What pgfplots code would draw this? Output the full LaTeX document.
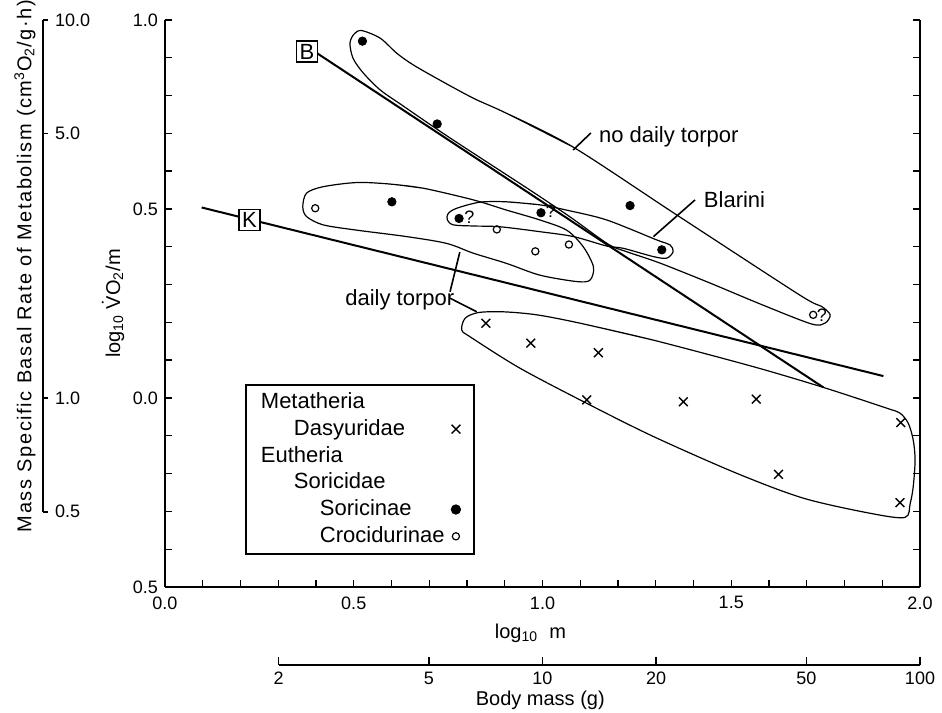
\documentclass[border=0pt]{standalone}
\usepackage{fontspec}
\setmainfont{Liberation Sans}
\newfontfamily\spaced[LetterSpace=8]{Liberation Sans}
\usepackage{pgfplots}
\pgfplotsset{compat=1.18}
\newcommand\lgt[2]{\makebox[89.8pt][l]{\hspace{#1}#2}}
\pgfplotsset{myimg/.style={legend image code/.code={\path[draw=none,fill=none] (0cm,0cm) (0.33cm,0cm); \draw[##1] plot coordinates {(0.2cm,0cm)};}}}
\begin{document}
\begin{tikzpicture}[x=1pt,y=1pt]
\useasboundingbox (-82.5,-62.5) rectangle (388.5,293.5);
% ---------------- main axis ----------------
\begin{axis}[
  at={(0pt,0pt)}, anchor=south west,
  scale only axis, width=377.5pt, height=283.5pt,
  xmin=0, xmax=2, ymin=-0.5, ymax=1,
  axis x line*=bottom, axis y line*=box,
  axis line style={line width=0.9pt},
  tick style={black, line width=0.7pt},
  tick align=inside,
  major tick length=3.5pt, minor tick length=3.5pt,
  xtick={0,0.5,1,1.5,2}, xticklabels={0.0,0.5,1.0,1.5,2.0},
  minor x tick num=4,
  ytick={-0.5,0,0.5,1}, yticklabels={0.5,0.0,0.5,1.0},
  minor y tick num=4,
  yticklabel pos=left,
  tick label style={font=\fontsize{9}{10}\selectfont},
  xticklabel style={yshift=-1.2pt},
  xlabel={log\textsubscript{10}\ \ m},
  ylabel={log\textsubscript{10} $\dot{\mbox{V}}$O\textsubscript{2}/m},
  every axis x label/.style={at={([yshift=-23pt]axis description cs:0.484,0)}, anchor=center, font=\fontsize{10}{12}\selectfont},
  every axis y label/.style={at={([xshift=-26pt]axis description cs:0,0.5)}, anchor=center, rotate=90, font=\fontsize{10}{12}\selectfont},
  clip=false,
  legend plot pos=right,
  legend cell align=left,
  legend style={at={(0.106,0.358)}, anchor=north west, draw=black, line width=0.9pt,
    font=\fontsize{11}{13}\selectfont, inner xsep=5.5pt, inner ysep=2pt, row sep=0pt,
    nodes={inner xsep=2pt, inner ysep=0.75pt, text height=9pt, text depth=2.9pt}},
]
% legend + data
\addlegendimage{empty legend}
\addlegendentry{\lgt{0pt}{Metatheria}}
\addplot[black, only marks, mark=x, mark size=3.1pt, mark options={line width=0.7pt}, myimg] coordinates {
 (0.850,0.198) (0.969,0.145) (1.148,0.120) (1.117,-0.005) (1.373,-0.010)
 (1.566,-0.003) (1.949,-0.065) (1.625,-0.202) (1.947,-0.277)};
\addlegendentry{\lgt{16.5pt}{Dasyuridae}}
\addlegendimage{empty legend}
\addlegendentry{\lgt{0pt}{Eutheria}}
\addlegendimage{empty legend}
\addlegendentry{\lgt{16.5pt}{Soricidae}}
\addplot[black, only marks, mark=*, mark size=2.1pt, myimg] coordinates {
 (0.523,0.944) (0.721,0.725) (0.601,0.519) (0.779,0.475) (0.996,0.490)
 (1.232,0.509) (1.316,0.392)};
\addlegendentry{\lgt{29.5pt}{Soricinae}}
\addplot[black, only marks, mark=o, mark size=1.8pt, mark options={line width=0.6pt}, myimg] coordinates {
 (0.398,0.502) (0.879,0.446) (0.981,0.388) (1.070,0.406) (1.717,0.220)};
\addlegendentry{\lgt{29.5pt}{Crocidurinae}}
% regression lines
\addplot[black, line width=1pt, forget plot] coordinates {(0.403,0.912) (1.744,0.028)};
\addplot[black, line width=1pt, forget plot] coordinates {(0.097,0.504) (1.903,0.058)};
% envelopes
\addplot[black, line width=0.6pt, smooth, tension=0.5, forget plot] coordinates {
 (0.905,0.753) (1.081,0.664) (1.356,0.484) (1.682,0.272) (1.738,0.243) (1.762,0.220)
 (1.748,0.198) (1.712,0.196) (1.576,0.249) (1.444,0.304) (1.311,0.357) (1.223,0.387)
 (1.174,0.407) (1.073,0.479) (0.967,0.550) (0.755,0.688) (0.623,0.778) (0.570,0.815)
 (0.525,0.860) (0.498,0.899) (0.490,0.939) (0.501,0.963) (0.521,0.972) (0.570,0.952)
 (0.614,0.912) (0.658,0.881) (0.728,0.841) (0.817,0.793) (0.905,0.753) (1.081,0.664)};
\addplot[black, line width=0.6pt, smooth, tension=0.5, forget plot] coordinates {
 (0.905,0.519) (0.993,0.511) (1.064,0.497) (1.170,0.471) (1.303,0.418) (1.338,0.405)
 (1.346,0.387) (1.329,0.370) (1.294,0.374) (1.214,0.396) (1.170,0.402) (1.082,0.427)
 (0.993,0.440) (0.887,0.453) (0.817,0.455) (0.764,0.458) (0.748,0.471) (0.750,0.488)
 (0.773,0.502) (0.834,0.518) (0.905,0.519) (0.993,0.511)};
\addplot[black, line width=0.6pt, smooth, tension=0.5, forget plot] coordinates {
 (0.596,0.566) (0.684,0.555) (0.817,0.524) (0.905,0.497) (0.993,0.471) (1.064,0.444)
 (1.108,0.400) (1.135,0.347) (1.126,0.312) (1.091,0.308) (0.993,0.325) (0.905,0.356)
 (0.817,0.383) (0.746,0.409) (0.640,0.427) (0.508,0.444) (0.419,0.458) (0.375,0.480)
 (0.365,0.506) (0.375,0.542) (0.419,0.559) (0.508,0.570) (0.596,0.566) (0.684,0.555)};
\addplot[black, line width=0.6pt, smooth, tension=0.5, forget plot] coordinates {
 (1.099,0.198) (1.294,0.153) (1.558,0.083) (1.744,0.028) (1.912,-0.027) (1.947,-0.040)
 (1.969,-0.067) (1.982,-0.111) (1.987,-0.164) (1.982,-0.235) (1.974,-0.279) (1.960,-0.316)
 (1.868,-0.305) (1.691,-0.265) (1.514,-0.199) (1.294,-0.102) (1.117,-0.014) (0.940,0.079)
 (0.808,0.162) (0.786,0.180) (0.795,0.211) (0.830,0.226) (0.896,0.228) (0.985,0.220)
 (1.099,0.198) (1.294,0.153)};
% leader lines
\addplot[black, line width=0.8pt, forget plot] coordinates {(1.128,0.701) (1.081,0.656)};
\addplot[black, line width=0.8pt, forget plot] coordinates {(1.404,0.524) (1.294,0.427)};
\addplot[black, line width=0.8pt, forget plot] coordinates {(0.755,0.281) (0.781,0.386)};
\addplot[black, line width=0.8pt, forget plot] coordinates {(0.755,0.264) (0.826,0.228)};
% labels
\node[anchor=west, font=\fontsize{11}{13}\selectfont] at (axis cs:1.131,0.691) {no daily torpor};
\node[anchor=west, font=\fontsize{11}{13}\selectfont] at (axis cs:1.409,0.524) {Blarini};
\node[anchor=west, font=\fontsize{11}{13}\selectfont] at (axis cs:0.459,0.259) {daily torpor};
\node[draw, line width=0.8pt, fill=white, minimum size=10.5pt, inner sep=0pt, font=\fontsize{11}{13}\selectfont] at (axis cs:0.376,0.916) {B};
\node[draw, line width=0.8pt, fill=white, minimum size=10.5pt, inner sep=0pt, font=\fontsize{11}{13}\selectfont] at (axis cs:0.224,0.471) {K};
\node[anchor=west, inner sep=0pt, font=\fontsize{9}{11}\selectfont] at (axis cs:0.792,0.478) {?};
\node[anchor=west, inner sep=0pt, font=\fontsize{9}{11}\selectfont] at (axis cs:1.008,0.493) {?};
\node[anchor=west, inner sep=0pt, font=\fontsize{9}{11}\selectfont] at (axis cs:1.726,0.220) {?};
\end{axis}
% ---------------- body mass axis ----------------
\begin{axis}[
  at={(56.8pt,-39pt)}, anchor=south west,
  scale only axis, width=320.7pt, height=10pt,
  xmode=log, xmin=2, xmax=100, ymin=0, ymax=1,
  axis x line*=bottom, axis y line=none, ytick=\empty,
  axis line style={line width=0.9pt},
  tick style={black, line width=0.7pt},
  tick align=inside, major tick length=4pt,
  xtick={2,5,10,20,50,100}, xticklabels={2,5,10,20,50,100},
  xminorticks=false,
  tick label style={font=\fontsize{9}{10}\selectfont},
  xlabel={Body mass (g)},
  every axis x label/.style={at={([yshift=-17.5pt]axis description cs:0.408,0)}, anchor=center, font=\fontsize{10}{12}\selectfont},
]
\end{axis}
% ---------------- mass specific rate axis ----------------
\begin{axis}[
  at={(-61pt,37.6pt)}, anchor=south east,
  scale only axis, width=1pt, height=245.9pt,
  ymode=log, ymin=0.5, ymax=10, xmin=0, xmax=1,
  axis y line*=right, axis x line=none, xtick=\empty,
  axis line style={line width=0.9pt},
  tick style={black, line width=0.7pt},
  tick align=outside, major tick length=2.5pt,
  ytick={0.5,1,5,10}, yticklabels={0.5,1.0,5.0,10.0},
  yminorticks=false,
  tick label style={font=\fontsize{9}{10}\selectfont},
  ylabel={\spaced Mass Specific Basal Rate of Metabolism (cm\textsuperscript{3}O\textsubscript{2}/g·h)},
  every axis y label/.style={at={([xshift=-9pt]axis description cs:1,0.5)}, anchor=center, rotate=90, font=\fontsize{10}{12}\selectfont},
]
\end{axis}
\end{tikzpicture}
\end{document}
